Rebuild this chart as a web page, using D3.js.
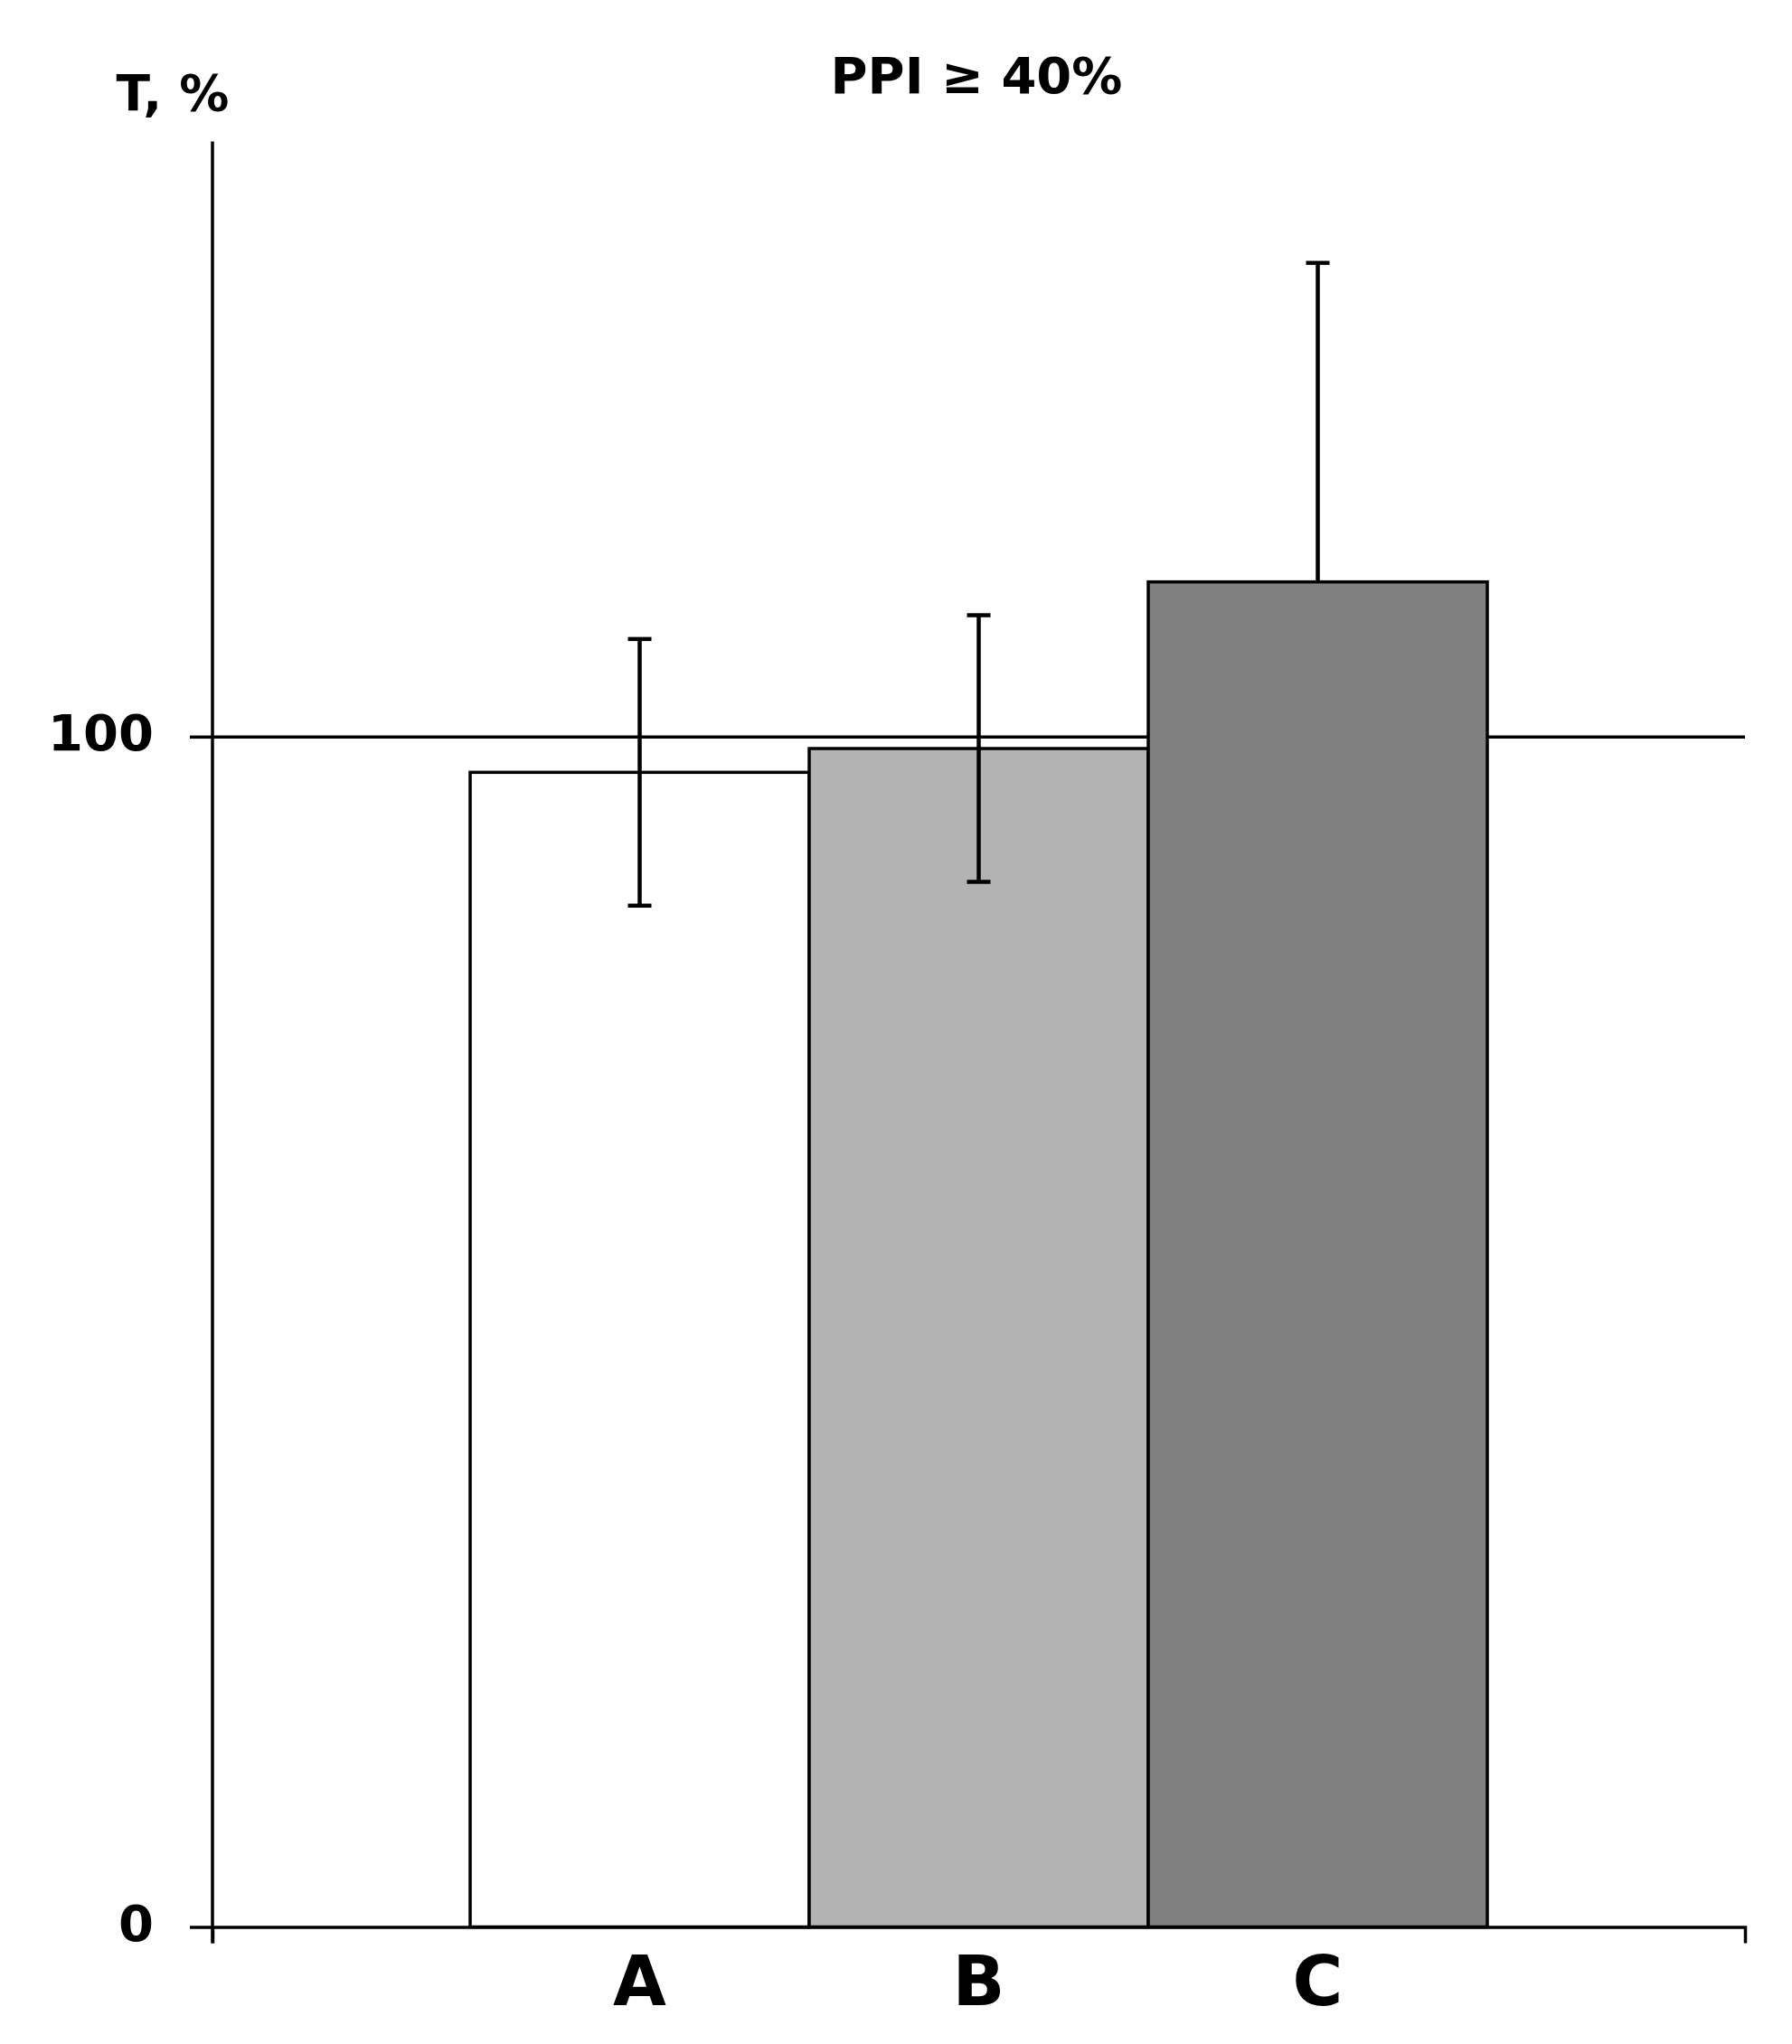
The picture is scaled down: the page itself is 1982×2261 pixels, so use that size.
<!DOCTYPE html>
<html lang="en">
<head>
    <meta charset="UTF-8">
    <title>PPI ≥ 40%</title>
    <style>
        body{
            margin: 0;
            background: #fff;
        }
        text{
            font-family: "DejaVu Sans", Verdana, sans-serif;
            font-weight: bold;
            fill: #000;
        }
    </style>
</head>
<body>
<div id="main"></div>
<script src="https://d3js.org/d3.v7.min.js"></script>
<script>
    /* data */
    const categories = ['A', 'B', 'C']
    const values = [97.0, 99.0, 113.0]
    const errPlus = [11.2, 11.2, 26.8]
    const errMinus = [11.2, 11.2, 0]
    const yTicks = [0, 100]
    const fills = ['#ffffff', '#b3b3b3', '#808080']

    const width = 1982
    const height = 2261
    const plotLeft = 235, plotRight = 1930
    const plotTop = 156.5, plotBottom = 2131.5

    const svg = d3.select('#main').append('svg')
        .attr('width', width)
        .attr('height', height)
        .attr('viewBox', `0 0 ${width} ${height}`)

    svg.append('rect')
        .attr('width', width)
        .attr('height', height)
        .attr('fill', '#fff')

    /* scales */
    const x = d3.scaleBand()
        .domain(categories)
        .range([plotLeft, plotRight])
        .paddingInner(0)
        .paddingOuter(0.76)

    const y = d3.scaleLinear()
        .domain([0, 150])
        .range([plotBottom, plotTop])

    /* reference line at 100, spans plot width */
    svg.append('g')
        .attr('transform', `translate(${plotLeft} 0)`)
        .call(d3.axisRight(y).tickValues([100]).tickSize(plotRight - plotLeft).tickFormat(''))
        .call(g => g.select('.domain').remove())
        .call(g => g.selectAll('line').attr('stroke', '#000').attr('stroke-width', 3.5))

    /* bars */
    svg.append('g')
        .selectAll('rect')
        .data(categories)
        .join('rect')
        .attr('x', d => x(d))
        .attr('y', (d, i) => y(values[i]))
        .attr('width', x.bandwidth())
        .attr('height', (d, i) => y(0) - y(values[i]))
        .attr('fill', (d, i) => fills[i])
        .attr('stroke', '#000')
        .attr('stroke-width', 3.5)

    /* error bars */
    const cap = 13
    const err = svg.append('g')
        .attr('stroke', '#000')
        .attr('stroke-width', 4.5)
    categories.forEach((c, i) => {
        const cx = x(c) + x.bandwidth() / 2
        const hi = values[i] + errPlus[i]
        const lo = values[i] - errMinus[i]
        err.append('line')
            .attr('x1', cx).attr('x2', cx)
            .attr('y1', y(hi)).attr('y2', y(lo))
        err.append('line')
            .attr('x1', cx - cap).attr('x2', cx + cap)
            .attr('y1', y(hi)).attr('y2', y(hi))
        if (errMinus[i] > 0) {
            err.append('line')
                .attr('x1', cx - cap).attr('x2', cx + cap)
                .attr('y1', y(lo)).attr('y2', y(lo))
        }
    })

    /* y axis */
    const yAxis = svg.append('g')
        .attr('transform', `translate(${plotLeft} 0)`)
        .call(d3.axisLeft(y).tickValues(yTicks).tickSize(25).tickSizeOuter(0).tickPadding(40))
    yAxis.select('.domain')
        .attr('d', `M0,${plotTop}V${plotBottom + 18}`)
    yAxis.selectAll('path, line').attr('stroke', '#000').attr('stroke-width', 3.5)
    yAxis.selectAll('text')
        .attr('dy', '0.26em')
        .attr('fill', '#000')
        .style('font-size', '56px')
        .style('font-family', '"DejaVu Sans", Verdana, sans-serif')
        .style('font-weight', 'bold')

    /* x axis */
    const xAxis = svg.append('g')
        .attr('transform', `translate(0 ${plotBottom})`)
        .call(d3.axisBottom(x).tickValues([]).tickSizeOuter(18))
    xAxis.selectAll('path').attr('stroke', '#000').attr('stroke-width', 3.5)

    /* category labels */
    svg.append('g')
        .selectAll('text')
        .data(categories)
        .join('text')
        .attr('x', d => x(d) + x.bandwidth() / 2)
        .attr('y', plotBottom + 86)
        .attr('text-anchor', 'middle')
        .style('font-size', '76px')
        .text(d => d)

    /* y axis title */
    svg.append('text')
        .attr('x', 191)
        .attr('y', 122)
        .attr('text-anchor', 'middle')
        .style('font-size', '55px')
        .text('T, %')

    /* chart title */
    svg.append('text')
        .attr('x', 1080)
        .attr('y', 103)
        .attr('text-anchor', 'middle')
        .style('font-size', '56px')
        .text('PPI ≥ 40%')
</script>
</body>
</html>
